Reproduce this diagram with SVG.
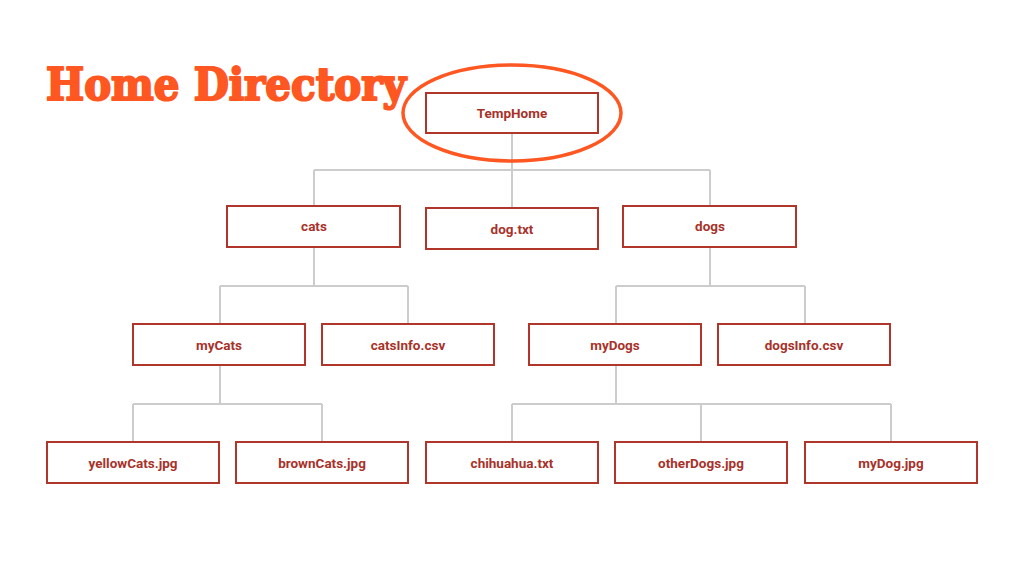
<svg xmlns="http://www.w3.org/2000/svg" width="1024" height="576" viewBox="0 0 1024 576">
<style>
.box{fill:#fff;stroke:#b0352a;stroke-width:2}
.lbl{font-family:Roboto,"Liberation Sans",sans-serif;font-weight:bold;font-size:13.5px;fill:#a8322a;text-anchor:middle;dominant-baseline:central}
.c{fill:none;stroke:#cccccc;stroke-width:2}
</style>
<rect width="1024" height="576" fill="#fff"/>
<text x="46" y="100" font-family="'DejaVu Serif',serif" font-weight="900" font-size="44" fill="#ff5722" stroke="#ff5722" stroke-width="2.2" stroke-linejoin="round" textLength="360" lengthAdjust="spacingAndGlyphs">Home Directory</text>
<g id="connectors">
<path class="c" d="M512 133V208M314 170H710M314 170V206M710 170V206"/>
<path class="c" d="M314 247V286M220 286H408M220 286V324M408 286V324"/>
<path class="c" d="M710 247V286M616 286H805M616 286V324M805 286V324"/>
<path class="c" d="M220 365V404M133 404H322M133 404V442M322 404V442"/>
<path class="c" d="M616 365V404M512 404H891M512 404V442M701 404V442M891 404V442"/>
</g>
<g id="TempHome"><rect class="box" x="426" y="93" width="172" height="40"/><text class="lbl" x="512" y="113">TempHome</text></g>
<ellipse id="highlight" cx="512" cy="113" rx="109" ry="48" fill="none" stroke="#ff5722" stroke-width="3.5"/>
<g id="cats"><rect class="box" x="227" y="206" width="173" height="41"/><text class="lbl" x="314" y="226">cats</text></g>
<g id="dogtxt"><rect class="box" x="426" y="208" width="172" height="41"/><text class="lbl" x="512" y="229">dog.txt</text></g>
<g id="dogs"><rect class="box" x="623" y="206" width="173" height="41"/><text class="lbl" x="710" y="226">dogs</text></g>
<g id="myCats"><rect class="box" x="133" y="324" width="172" height="41"/><text class="lbl" x="219" y="345">myCats</text></g>
<g id="catsInfo"><rect class="box" x="322" y="324" width="172" height="41"/><text class="lbl" x="408" y="345">catsInfo.csv</text></g>
<g id="myDogs"><rect class="box" x="529" y="324" width="172" height="41"/><text class="lbl" x="615" y="345">myDogs</text></g>
<g id="dogsInfo"><rect class="box" x="718" y="324" width="172" height="41"/><text class="lbl" x="804" y="345">dogsInfo.csv</text></g>
<g id="yellowCats"><rect class="box" x="47" y="442" width="172" height="41"/><text class="lbl" x="133" y="463">yellowCats.jpg</text></g>
<g id="brownCats"><rect class="box" x="236" y="442" width="172" height="41"/><text class="lbl" x="322" y="463">brownCats.jpg</text></g>
<g id="chihuahua"><rect class="box" x="426" y="442" width="172" height="41"/><text class="lbl" x="512" y="463">chihuahua.txt</text></g>
<g id="otherDogs"><rect class="box" x="615" y="442" width="172" height="41"/><text class="lbl" x="701" y="463">otherDogs.jpg</text></g>
<g id="myDog"><rect class="box" x="805" y="442" width="172" height="41"/><text class="lbl" x="891" y="463">myDog.jpg</text></g>
</svg>
